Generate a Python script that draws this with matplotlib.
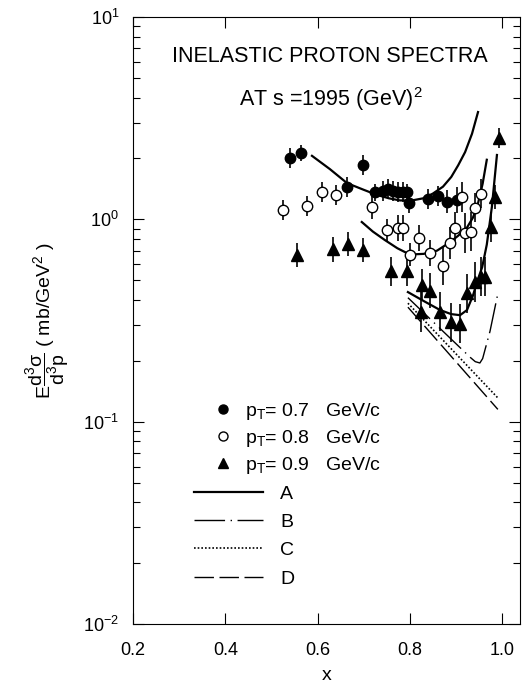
import numpy as np
import matplotlib
matplotlib.use('Agg')
import matplotlib.pyplot as plt
from matplotlib.lines import Line2D

plt.rcParams['font.family'] = ['Liberation Sans', 'DejaVu Sans']
plt.rcParams['mathtext.fontset'] = 'custom'
plt.rcParams['mathtext.rm'] = 'Liberation Sans'
plt.rcParams['mathtext.it'] = 'Liberation Sans'
plt.rcParams['mathtext.default'] = 'regular'

# data points (x, E d3sigma/d3p, relative error)
x_07 = [0.540, 0.564, 0.664, 0.699, 0.725, 0.742, 0.753, 0.764, 0.775, 0.785, 0.794,
        0.798, 0.840, 0.861, 0.881, 0.902]
y_07 = [2.01, 2.13, 1.45, 1.85, 1.36, 1.38, 1.41, 1.38, 1.37, 1.37, 1.36,
        1.20, 1.26, 1.31, 1.22, 1.24]
e_07 = [0.12, 0.10, 0.12, 0.12, 0.10, 0.12, 0.12, 0.12, 0.12, 0.12, 0.10,
        0.12, 0.12, 0.12, 0.14, 0.16]

x_08 = [0.525, 0.577, 0.610, 0.640, 0.718, 0.751, 0.775, 0.786, 0.800, 0.820,
        0.844, 0.872, 0.887, 0.898, 0.913, 0.920, 0.933, 0.942, 0.955]
y_08 = [1.11, 1.16, 1.37, 1.32, 1.15, 0.885, 0.91, 0.91, 0.67, 0.81,
        0.68, 0.59, 0.76, 0.91, 1.29, 0.855, 0.87, 1.14, 1.34]
e_08 = [0.12, 0.12, 0.12, 0.12, 0.14, 0.14, 0.16, 0.16, 0.14, 0.16,
        0.16, 0.25, 0.20, 0.20, 0.18, 0.25, 0.25, 0.18, 0.18]

x_09 = [0.556, 0.634, 0.666, 0.699, 0.759, 0.794, 0.825, 0.827, 0.844, 0.866,
        0.889, 0.909, 0.924, 0.942, 0.955, 0.963, 0.976, 0.985, 0.994]
y_09 = [0.667, 0.71, 0.755, 0.705, 0.555, 0.555, 0.348, 0.473, 0.443, 0.35,
        0.31, 0.305, 0.43, 0.49, 0.52, 0.52, 0.916, 1.29, 2.52]
e_09 = [0.15, 0.15, 0.15, 0.15, 0.18, 0.18, 0.25, 0.20, 0.22, 0.25,
        0.25, 0.25, 0.25, 0.25, 0.25, 0.25, 0.18, 0.15, 0.12]

# model curves (A for each pT, then B, C, D)
xa_07 = [0.588, 0.627, 0.664, 0.700, 0.729, 0.755, 0.779, 0.805, 0.829, 0.850,
         0.872, 0.890, 0.905, 0.920, 0.935, 0.948]
ya_07 = [2.06, 1.77, 1.51, 1.40, 1.32, 1.27, 1.24, 1.24, 1.27, 1.34,
         1.45, 1.62, 1.85, 2.15, 2.65, 3.39]
xa_08 = [0.696, 0.720, 0.746, 0.773, 0.800, 0.830, 0.859, 0.887, 0.905, 0.924,
         0.937, 0.948, 0.958, 0.967]
ya_08 = [0.97, 0.87, 0.79, 0.72, 0.67, 0.675, 0.70, 0.77, 0.83, 0.91,
         1.02, 1.20, 1.50, 1.97]
xa_09 = [0.796, 0.830, 0.866, 0.890, 0.909, 0.924, 0.937, 0.947, 0.957, 0.967,
         0.978, 0.989]
ya_09 = [0.437, 0.395, 0.356, 0.340, 0.336, 0.356, 0.42, 0.50, 0.58, 0.75,
         1.15, 2.08]
x_b = [0.796, 0.931, 0.942, 0.952, 0.958, 0.963, 0.974, 0.991]
y_b = [0.41, 0.208, 0.198, 0.195, 0.205, 0.226, 0.28, 0.43]
x_c = [0.796, 0.991]
y_c = [0.385, 0.131]
x_d = [0.796, 0.991]
y_d = [0.368, 0.115]

fig = plt.figure(figsize=(5.22, 6.88), dpi=100)
ax = fig.add_axes([133/522, 64/688, 387/522, 607/688])
ax.set_yscale('log')
ax.set_xlim(0.2, 1.039)
ax.set_ylim(1e-2, 1e1)


def errs(y, e):
    y = np.array(y)
    e = np.array(e)
    return [y - y / (1 + e), y * e]


ax.errorbar(x_07, y_07, yerr=errs(y_07, e_07), fmt='o', color='k', ms=7.5,
            elinewidth=1.2, capsize=0)
ax.errorbar(x_08, y_08, yerr=errs(y_08, e_08), fmt='o', mfc='white', mec='k',
            ecolor='k', ms=7.5, mew=1.0, elinewidth=1.2, capsize=0)
ax.errorbar(x_09, y_09, yerr=errs(y_09, e_09), fmt='^', color='k', ms=8,
            elinewidth=1.2, capsize=0)

ax.plot(xa_07, ya_07, 'k-', lw=1.6)
ax.plot(xa_08, ya_08, 'k-', lw=1.6)
ax.plot(xa_09, ya_09, 'k-', lw=1.6)
ax.plot(x_b, y_b, color='k', lw=1.0, ls=(0, (22, 4, 1, 4)))
ax.plot(x_c, y_c, color='k', lw=1.2, ls=(0, (1, 1.2)))
ax.plot(x_d, y_d, color='k', lw=1.0, ls=(0, (14, 4)))

ax.text(0.51, 0.935, 'INELASTIC PROTON SPECTRA', transform=ax.transAxes,
        ha='center', va='center', fontsize=15.5)
ax.text(0.51, 0.865, 'AT s =1995 (GeV)$^2$', transform=ax.transAxes,
        ha='center', va='center', fontsize=15.5)

# legends
h1 = [Line2D([], [], ls='none', marker='o', color='k', ms=6.5),
      Line2D([], [], ls='none', marker='o', mfc='white', mec='k', ms=6.5),
      Line2D([], [], ls='none', marker='^', color='k', ms=6.5)]
l1 = ['p$_T$= 0.7   GeV/c', 'p$_T$= 0.8   GeV/c', 'p$_T$= 0.9   GeV/c']
leg1 = ax.legend(h1, l1, loc='upper left', bbox_to_anchor=(0.207, 0.367),
                 frameon=False, fontsize=14, handlelength=1.0, handletextpad=0.65,
                 labelspacing=0.31, borderpad=0, borderaxespad=0)
ax.add_artist(leg1)
h2 = [Line2D([], [], color='k', lw=1.6),
      Line2D([], [], color='k', lw=1.0, ls=(0, (22, 4, 1, 4))),
      Line2D([], [], color='k', lw=1.2, ls=(0, (1, 1.2))),
      Line2D([], [], color='k', lw=1.0, ls=(0, (14, 4)))]
ax.legend(h2, ['A', 'B', 'C', 'D'], loc='upper left', bbox_to_anchor=(0.158, 0.229),
          frameon=False, fontsize=14, handlelength=3.55, handletextpad=0.88,
          labelspacing=0.55, borderpad=0, borderaxespad=0)

ax.set_xticks([0.2, 0.4, 0.6, 0.8, 1.0])
ax.set_xticklabels(['0.2', '0.4', '0.6', '0.8', '1.0'])
ax.tick_params(which='both', direction='in', top=True, right=True, labelsize=13)
ax.tick_params(which='major', length=8, width=0.8)
ax.tick_params(which='minor', length=5, width=0.8)
ax.tick_params(axis='x', pad=13)
ax.tick_params(axis='y', pad=10)
ax.set_xlabel('x', fontsize=14, labelpad=6)
ax.set_ylabel(r'E$\dfrac{d^3\sigma}{d^3p}$ ( mb/GeV$^2$ )', fontsize=14, labelpad=8)
for s in ax.spines.values():
    s.set_linewidth(0.8)

fig.savefig('out.png', dpi=100)
